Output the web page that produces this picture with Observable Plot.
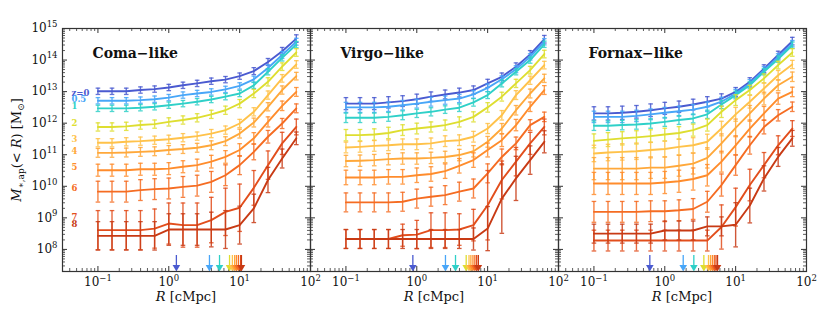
<!DOCTYPE html>
<html><head><meta charset="utf-8">
<script src="https://cdn.jsdelivr.net/npm/d3@7"></script>
<script src="https://cdn.jsdelivr.net/npm/@observablehq/plot@0.6"></script>
<style>
body{margin:0;background:#fff;}
#fig{position:relative;width:831px;height:327px;overflow:hidden;background:#fff;font-family:"DejaVu Serif",serif;}
#fig svg{position:absolute;top:0;}
</style></head><body><div id="fig"></div>
<script>
// ---------- data ----------
const R = [0.1, 0.158, 0.251, 0.398, 0.631, 1.0, 1.585, 2.512, 3.981, 6.31, 10.0, 15.85, 25.12, 39.81, 63.1];
const zLabels = ["z=0", "0.5", "1", "2", "3", "4", "5", "6", "7", "8"];
const colors = ["#4a5ad0", "#48a6f8", "#2fd0c8", "#dede30", "#ffc24a", "#ffa83a", "#ff8c2c", "#f56c22", "#e24e1c", "#c83a14"];
const labelLogM = [12.95, 12.75, 12.55, 11.99, 11.48, 11.10, 10.60, 9.93, 9.02, 8.81];
const titles = ["Coma\u2212like", "Virgo\u2212like", "Fornax\u2212like"];

// log10 M*,ap(<R) [Msun], rows = z 0,0.5,1,2,3,4,5,6,7,8
const comaLogM = [
  [13.01,13.01,13.01,13.05,13.08,13.13,13.20,13.26,13.33,13.38,13.49,13.65,13.94,14.28,14.68],
  [12.71,12.71,12.71,12.73,12.76,12.81,12.89,12.94,12.99,13.07,13.18,13.39,13.75,14.16,14.58],
  [12.47,12.47,12.47,12.49,12.52,12.57,12.62,12.68,12.75,12.84,12.94,13.20,13.63,14.07,14.49],
  [11.88,11.88,11.90,11.94,11.97,12.04,12.10,12.17,12.28,12.41,12.62,12.94,13.31,13.79,14.24],
  [11.38,11.38,11.41,11.43,11.46,11.49,11.54,11.59,11.67,11.78,11.99,12.36,12.89,13.42,13.86],
  [11.06,11.06,11.07,11.09,11.11,11.15,11.18,11.22,11.30,11.43,11.67,12.02,12.52,13.05,13.49],
  [10.51,10.51,10.51,10.54,10.54,10.56,10.62,10.67,10.78,10.93,11.15,11.52,12.04,12.55,12.99],
  [9.83,9.83,9.83,9.88,9.91,9.93,9.98,10.02,10.14,10.35,10.67,11.09,11.57,11.99,12.47],
  [8.61,8.61,8.61,8.61,8.66,8.82,8.77,8.77,8.93,9.19,9.32,9.95,10.67,11.36,11.88],
  [8.43,8.43,8.43,8.43,8.43,8.63,8.63,8.63,8.63,8.63,8.77,9.30,10.20,10.88,11.52]
];
const comaErr = [
  [0.10,0.10,0.10,0.10,0.10,0.10,0.10,0.10,0.10,0.10,0.10,0.11,0.11,0.12,0.12],
  [0.10,0.10,0.10,0.10,0.10,0.10,0.10,0.10,0.10,0.10,0.10,0.10,0.10,0.11,0.11],
  [0.10,0.10,0.10,0.10,0.10,0.10,0.10,0.10,0.10,0.10,0.10,0.10,0.10,0.10,0.10],
  [0.13,0.13,0.13,0.13,0.13,0.13,0.13,0.13,0.13,0.13,0.13,0.13,0.13,0.12,0.12],
  [0.13,0.13,0.13,0.13,0.13,0.13,0.13,0.13,0.13,0.13,0.13,0.13,0.13,0.12,0.12],
  [0.14,0.14,0.14,0.14,0.14,0.14,0.14,0.14,0.14,0.14,0.14,0.14,0.13,0.13,0.12],
  [0.19,0.19,0.19,0.19,0.19,0.19,0.19,0.19,0.20,0.20,0.20,0.18,0.16,0.15,0.14],
  [0.33,0.33,0.33,0.33,0.33,0.33,0.33,0.33,0.33,0.33,0.30,0.25,0.20,0.16,0.14],
  [0.62,0.62,0.62,0.62,0.62,0.65,0.70,0.70,0.72,0.75,0.75,0.55,0.45,0.35,0.25],
  [0.45,0.45,0.45,0.45,0.45,0.50,0.50,0.50,0.55,0.60,0.60,0.45,0.40,0.30,0.20]
];
const virgoLogM = [
  [12.62,12.62,12.62,12.66,12.70,12.76,12.84,12.91,12.97,13.05,13.26,13.47,13.79,14.18,14.66],
  [12.50,12.50,12.50,12.52,12.57,12.62,12.68,12.73,12.78,12.91,13.12,13.39,13.71,14.10,14.58],
  [12.17,12.17,12.17,12.20,12.25,12.31,12.36,12.43,12.49,12.66,12.89,13.26,13.63,14.00,14.50],
  [11.62,11.62,11.64,11.69,11.78,11.83,11.88,11.94,12.04,12.20,12.50,12.84,13.26,13.68,14.19],
  [11.23,11.25,11.28,11.30,11.33,11.33,11.36,11.43,11.46,11.57,11.83,12.25,12.89,13.36,13.84],
  [10.80,10.81,10.83,10.86,10.88,10.88,10.90,10.93,10.99,11.11,11.41,11.83,12.41,12.94,13.42],
  [10.28,10.28,10.28,10.30,10.30,10.35,10.39,10.48,10.65,10.83,11.15,11.46,11.94,12.52,13.05],
  [9.49,9.49,9.49,9.49,9.51,9.61,9.67,9.72,9.83,9.93,10.41,10.93,11.36,11.94,12.20],
  [8.33,8.33,8.33,8.33,8.45,8.47,8.61,8.61,8.63,8.77,9.40,10.20,10.78,11.36,11.88],
  [8.33,8.33,8.33,8.33,8.33,8.33,8.33,8.33,8.33,8.33,8.66,9.61,10.25,10.83,11.41]
];
const virgoErr = [
  [0.19,0.19,0.19,0.18,0.17,0.16,0.15,0.14,0.14,0.13,0.13,0.12,0.12,0.12,0.12],
  [0.16,0.16,0.16,0.15,0.15,0.14,0.14,0.13,0.13,0.12,0.12,0.11,0.11,0.10,0.10],
  [0.15,0.15,0.15,0.14,0.14,0.13,0.13,0.12,0.12,0.12,0.11,0.11,0.10,0.10,0.10],
  [0.18,0.18,0.18,0.18,0.17,0.17,0.16,0.16,0.16,0.16,0.15,0.14,0.13,0.12,0.12],
  [0.17,0.17,0.17,0.17,0.17,0.17,0.17,0.17,0.17,0.17,0.16,0.15,0.14,0.13,0.12],
  [0.18,0.18,0.18,0.18,0.18,0.18,0.18,0.18,0.18,0.18,0.17,0.16,0.15,0.14,0.13],
  [0.23,0.23,0.23,0.23,0.23,0.23,0.23,0.23,0.23,0.23,0.22,0.20,0.18,0.15,0.14],
  [0.30,0.30,0.30,0.30,0.30,0.30,0.30,0.30,0.30,0.30,0.30,0.25,0.20,0.17,0.15],
  [0.30,0.30,0.30,0.30,0.35,0.45,0.55,0.55,0.50,0.50,1.10,0.60,0.45,0.35,0.25],
  [0.30,0.30,0.30,0.30,0.30,0.30,0.30,0.30,0.30,0.35,0.70,1.10,0.70,0.45,0.35]
];
const fornaxLogM = [
  [12.31,12.31,12.33,12.36,12.41,12.47,12.52,12.59,12.68,12.78,12.99,13.31,13.73,14.16,14.60],
  [12.20,12.20,12.20,12.23,12.28,12.33,12.38,12.43,12.52,12.68,12.94,13.26,13.68,14.10,14.52],
  [11.92,11.92,11.94,11.96,11.99,12.04,12.10,12.15,12.28,12.59,12.89,13.20,13.63,14.03,14.47],
  [11.44,11.48,11.52,11.55,11.59,11.64,11.69,11.78,11.94,12.36,12.73,13.05,13.42,13.84,14.24],
  [11.04,11.07,11.09,11.11,11.15,11.18,11.25,11.30,11.41,11.83,12.28,12.68,13.10,13.52,13.86],
  [10.56,10.56,10.56,10.56,10.59,10.59,10.65,10.72,10.90,11.36,11.85,12.31,12.78,13.20,13.47],
  [10.09,10.09,10.09,10.09,10.09,10.12,10.16,10.23,10.35,10.78,11.30,11.83,12.31,12.78,12.99],
  [9.19,9.19,9.19,9.19,9.21,9.21,9.24,9.28,9.51,10.04,10.67,11.30,11.88,12.25,12.52],
  [8.28,8.28,8.28,8.28,8.28,8.28,8.28,8.28,8.28,8.71,9.34,10.04,10.67,11.30,11.83],
  [8.50,8.50,8.50,8.50,8.50,8.60,8.60,8.60,8.73,8.73,8.78,9.39,10.25,10.93,11.52]
];
const fornaxErr = [
  [0.21,0.21,0.21,0.20,0.20,0.19,0.18,0.17,0.16,0.15,0.14,0.13,0.12,0.12,0.12],
  [0.18,0.18,0.18,0.18,0.17,0.17,0.16,0.16,0.15,0.14,0.13,0.12,0.11,0.10,0.10],
  [0.15,0.15,0.15,0.15,0.15,0.14,0.14,0.14,0.13,0.13,0.12,0.11,0.10,0.10,0.10],
  [0.22,0.22,0.21,0.21,0.20,0.20,0.20,0.19,0.19,0.18,0.17,0.15,0.14,0.12,0.12],
  [0.26,0.26,0.26,0.26,0.25,0.25,0.25,0.24,0.24,0.23,0.22,0.20,0.17,0.15,0.13],
  [0.35,0.35,0.35,0.35,0.34,0.34,0.33,0.33,0.32,0.30,0.28,0.25,0.20,0.17,0.15],
  [0.35,0.35,0.35,0.35,0.35,0.35,0.35,0.35,0.34,0.33,0.30,0.27,0.22,0.18,0.15],
  [0.33,0.33,0.33,0.33,0.33,0.33,0.33,0.33,0.33,0.35,0.32,0.28,0.22,0.18,0.15],
  [0.33,0.33,0.33,0.33,0.33,0.33,0.33,0.33,0.33,0.70,0.60,0.50,0.40,0.30,0.25],
  [0.30,0.30,0.30,0.30,0.30,0.30,0.30,0.30,0.30,0.30,0.70,0.55,0.40,0.30,0.25]
];
// characteristic radii marked by arrows (cMpc), z order as above
const comaArrowR = [1.28, 3.75, 5.2, 7.2, 7.9, 8.5, 9.0, 9.6, 10.3, 10.6];
const virgoArrowR = [0.88, 2.54, 3.52, 4.98, 5.46, 5.8, 6.2, 6.6, 7.0, 7.4];
const fornaxArrowR = [0.615, 1.82, 2.57, 3.56, 4.14, 4.42, 4.7, 5.0, 5.28, 5.55];

const xMajor = [0.1, 1, 10, 100];
const xTickLabels = ["10^\u22121", "10^0", "10^1", "10^2"];
const yMajor = [1e8, 1e9, 1e10, 1e11, 1e12, 1e13, 1e14, 1e15];
const yTickLabels = ["10^8", "10^9", "10^10", "10^11", "10^12", "10^13", "10^14", "10^15"];

// ---------- layout ----------
const W = 248, H = 243, ML = 62, MR = 12, MT = 28, MB = 56;
const xDomain = [Math.pow(10, -1.5), 100];
const yDomain = [Math.pow(10, 7.3), 1e15];
const xMinor = [];
[0.01, 0.1, 1, 10].forEach(d => { for (let m = 2; m <= 9; m++) { const v = m * d; if (v >= xDomain[0] && v <= xDomain[1]) xMinor.push(v); } });
const yMinor = [];
for (let e = 7; e < 15; e++) for (let m = 2; m <= 9; m++) { const v = m * Math.pow(10, e); if (v >= yDomain[0] && v <= yDomain[1]) yMinor.push(v); }

const capSymbol = {draw(ctx, size) { const r = Math.sqrt(size / Math.PI); ctx.moveTo(-r, 0); ctx.lineTo(r, 0); }};
const headSymbol = {draw(ctx, size) { const r = Math.sqrt(size / Math.PI); ctx.moveTo(-r, -1.7 * r); ctx.lineTo(r, -1.7 * r); ctx.lineTo(0, 0); ctx.closePath(); }};

const panels = [
  {title: titles[0], logM: comaLogM, err: comaErr, arrows: comaArrowR},
  {title: titles[1], logM: virgoLogM, err: virgoErr, arrows: virgoArrowR},
  {title: titles[2], logM: fornaxLogM, err: fornaxErr, arrows: fornaxArrowR}
];
const fig = document.getElementById("fig");
const tickColor = "#333";

panels.forEach((p, k) => {
  const marks = [];
  // inward ticks on all sides
  marks.push(Plot.tickY(yMajor, {y: d => d, insetRight: W - 5, stroke: tickColor}));
  marks.push(Plot.tickY(yMajor, {y: d => d, insetLeft: W - 5, stroke: tickColor}));
  marks.push(Plot.tickY(yMinor, {y: d => d, insetRight: W - 3, stroke: tickColor, strokeWidth: 0.8}));
  marks.push(Plot.tickY(yMinor, {y: d => d, insetLeft: W - 3, stroke: tickColor, strokeWidth: 0.8}));
  marks.push(Plot.tickX(xMajor, {x: d => d, insetTop: H - 5, stroke: tickColor}));
  marks.push(Plot.tickX(xMajor, {x: d => d, insetBottom: H - 5, stroke: tickColor}));
  marks.push(Plot.tickX(xMinor, {x: d => d, insetTop: H - 3, stroke: tickColor, strokeWidth: 0.8}));
  marks.push(Plot.tickX(xMinor, {x: d => d, insetBottom: H - 3, stroke: tickColor, strokeWidth: 0.8}));

  p.logM.forEach((vals, i) => {
    const rows = vals.map((v, j) => ({R: R[j], M: Math.pow(10, v), lo: Math.pow(10, v - p.err[i][j]), hi: Math.pow(10, v + p.err[i][j])}));
    const c = colors[i];
    marks.push(Plot.ruleX(rows, {x: "R", y1: "lo", y2: "hi", stroke: c, strokeWidth: 1.4, strokeOpacity: 0.85}));
    marks.push(Plot.dot(rows, {x: "R", y: "lo", symbol: capSymbol, r: 2.3, stroke: c, fill: "none", strokeWidth: 1.3, strokeOpacity: 0.85}));
    marks.push(Plot.dot(rows, {x: "R", y: "hi", symbol: capSymbol, r: 2.3, stroke: c, fill: "none", strokeWidth: 1.3, strokeOpacity: 0.85}));
    marks.push(Plot.line(rows, {x: "R", y: "M", stroke: c, strokeWidth: 1.9}));
  });

  p.arrows.forEach((r, i) => {
    marks.push(Plot.ruleX([r], {x: d => d, insetTop: H - 16, insetBottom: 4, stroke: colors[i], strokeWidth: 1.3}));
    marks.push(Plot.dot([r], {x: d => d, frameAnchor: "bottom", symbol: headSymbol, r: 3.8, fill: colors[i], stroke: "none"}));
  });

  marks.push(Plot.frame({stroke: "#333", strokeWidth: 1.2}));
  marks.push(Plot.text([p.title], {text: d => d, frameAnchor: "top-left", dx: 30, dy: 25, textAnchor: "start", lineAnchor: "middle", fontWeight: "bold", fontSize: 14, fill: "#111"}));

  if (k === 0) {
    marks.push(Plot.text(zLabels, {text: d => d, y: (d, i) => Math.pow(10, labelLogM[i]), frameAnchor: "left", dx: 9, textAnchor: "start", fill: (d, i) => colors[i], fontWeight: "bold", fontSize: 8.5}));
    marks.push(Plot.axisY({anchor: "left", ticks: yMajor, tickFormat: d => yTickLabels[yMajor.indexOf(d)], tickSize: 0, tickPadding: 5, label: null, fontSize: 12}));
  }
  marks.push(Plot.axisX({anchor: "bottom", ticks: xMajor, tickFormat: d => xTickLabels[xMajor.indexOf(d)], tickSize: 0, tickPadding: 6, label: null, fontSize: 12}));

  const svg = Plot.plot({
    width: ML + W + MR, height: MT + H + MB,
    marginLeft: ML, marginRight: MR, marginTop: MT, marginBottom: MB,
    x: {type: "log", domain: xDomain},
    y: {type: "log", domain: yDomain, axis: k === 0 ? undefined : null},
    color: {type: "identity"},
    style: {background: "transparent", overflow: "visible", fontFamily: "'DejaVu Serif', serif", fontSize: "12px", color: "#111"},
    marks
  });
  svg.style.left = (W * k) + "px";
  svg.style.position = "absolute";
  svg.style.top = "0px";

  const s = d3.select(svg);
  // turn "10^e" tick labels into base + raised exponent
  s.selectAll("text").each(function () {
    const t = this.textContent;
    const m = /^10\^(.+)$/.exec(t);
    if (!m) return;
    const sel = d3.select(this);
    sel.text(null);
    sel.append("tspan").text("10");
    sel.append("tspan").attr("font-size", 8.5).attr("dy", -5.5).text(m[1]);
  });
  const xl = s.append("text").attr("x", ML + W / 2).attr("y", 301).attr("text-anchor", "middle")
    .attr("font-size", 13).attr("fill", "#111").attr("font-family", "'DejaVu Serif', serif");
  xl.append("tspan").attr("font-style", "italic").text("R");
  xl.append("tspan").text(" [cMpc]");
  if (k === 0) {
    const yl = s.append("text").attr("transform", "translate(21,150) rotate(-90)").attr("text-anchor", "middle")
      .attr("font-size", 13).attr("fill", "#111").attr("font-family", "'DejaVu Serif', serif");
    yl.append("tspan").attr("font-style", "italic").text("M");
    yl.append("tspan").attr("font-size", 9).attr("dy", 3).text("\u2217,ap");
    yl.append("tspan").attr("dy", -3).text("(< ");
    yl.append("tspan").attr("font-style", "italic").text("R");
    yl.append("tspan").text(") [M");
    yl.append("tspan").attr("font-size", 9).attr("dy", 3).text("\u2299");
    yl.append("tspan").attr("dy", -3).text("]");
  }
  fig.appendChild(svg);
});
</script></body></html>
